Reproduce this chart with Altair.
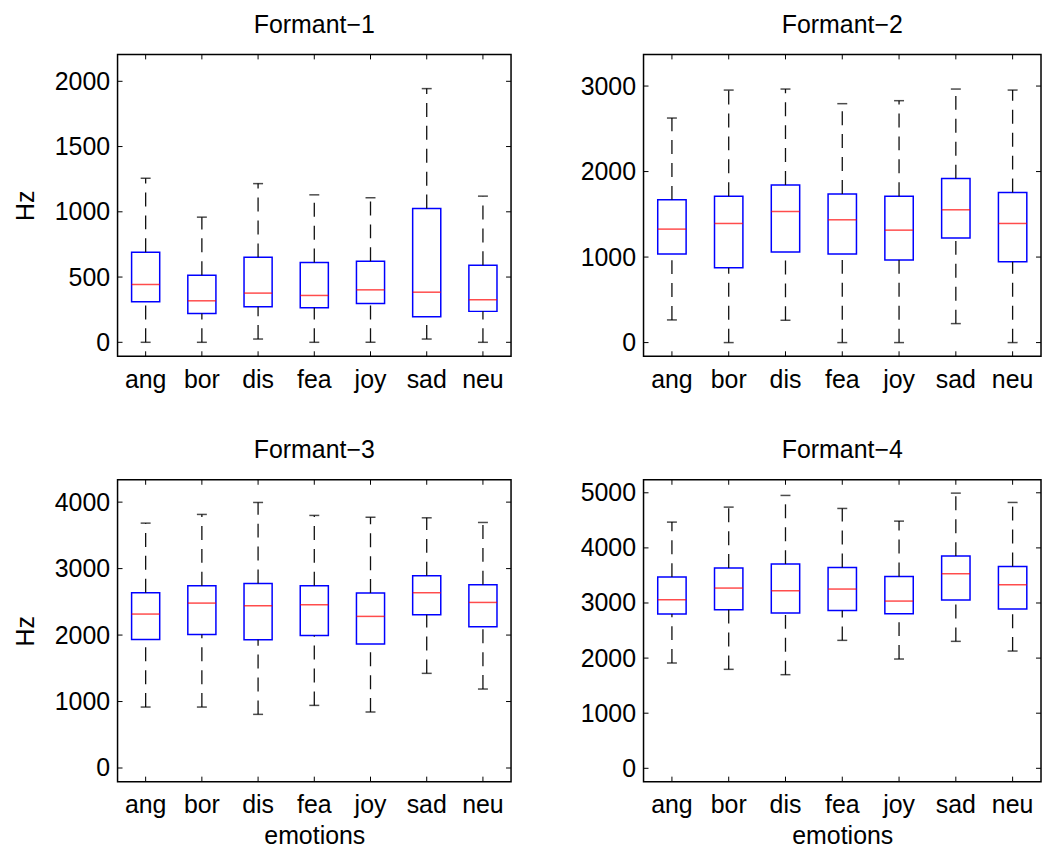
import altair as alt
import pandas as pd

emotions = ["ang", "bor", "dis", "fea", "joy", "sad", "neu"]

# Formant-1
f1_lower = [0, 0, 25, 0, 0, 25, 0]
f1_q1 = [310, 221, 272, 265, 298, 196, 237]
f1_median = [443, 318, 377, 359, 402, 384, 326]
f1_q3 = [690, 514, 651, 611, 621, 1025, 590]
f1_upper = [1257, 959, 1216, 1130, 1107, 1944, 1120]
f1_ticks = [0, 500, 1000, 1500, 2000]
f1_domain = [-107, 2206]

# Formant-2
f2_lower = [265, 0, 261, 0, 0, 222, 0]
f2_q1 = [1035, 875, 1058, 1035, 965, 1222, 946]
f2_median = [1327, 1393, 1533, 1436, 1315, 1553, 1393]
f2_q3 = [1669, 1712, 1844, 1739, 1712, 1918, 1755]
f2_upper = [2626, 2953, 2965, 2794, 2829, 2965, 2953]
f2_ticks = [0, 1000, 2000, 3000]
f2_domain = [-160, 3370]

# Formant-3
f3_lower = [917, 917, 807, 942, 842, 1424, 1188]
f3_q1 = [1935, 2010, 1930, 1995, 1865, 2306, 2125]
f3_median = [2316, 2481, 2441, 2456, 2281, 2637, 2491]
f3_q3 = [2637, 2742, 2777, 2742, 2632, 2892, 2757]
f3_upper = [3684, 3815, 3995, 3800, 3774, 3764, 3694]
f3_ticks = [0, 1000, 2000, 3000, 4000]
f3_domain = [-205, 4336]

# Formant-4
f4_lower = [1911, 1796, 1699, 2322, 1983, 2304, 2128]
f4_q1 = [2799, 2878, 2817, 2866, 2805, 3053, 2890]
f4_median = [3059, 3271, 3222, 3253, 3035, 3531, 3331]
f4_q3 = [3470, 3634, 3706, 3646, 3482, 3851, 3664]
f4_upper = [4468, 4740, 4952, 4716, 4486, 4994, 4825]
f4_ticks = [0, 1000, 2000, 3000, 4000, 5000]
f4_domain = [-242, 5236]

FONT = "Liberation Sans"
H = 303
TICK = 5


def panel(title, lower, q1, med, q3, upper, ticks, domain, W, ytitle, xtitle):
    df = pd.DataFrame({"emotion": emotions, "lower": lower, "q1": q1,
                       "median": med, "q3": q3, "upper": upper})
    tdf = pd.DataFrame({"v": ticks})

    xaxis = alt.Axis(labelAngle=0, ticks=False, domain=False, grid=False,
                     labelPadding=11, titlePadding=6, labelFontSize=25,
                     titleFontSize=25)
    yaxis = alt.Axis(values=ticks, format="d", ticks=False, domain=False, grid=False,
                     labelPadding=8, titlePadding=16, labelFontSize=25,
                     titleFontSize=25)
    xscale = alt.Scale(domain=emotions, paddingInner=0.5, paddingOuter=0.25)
    yscale = alt.Scale(domain=domain, nice=False, zero=False)

    def X():
        if xtitle:
            return alt.X("emotion:N", sort=emotions, scale=xscale, axis=xaxis, title=xtitle)
        return alt.X("emotion:N", sort=emotions, scale=xscale, axis=xaxis, title=None)

    def Y(field):
        if ytitle:
            return alt.Y(field, type="quantitative", scale=yscale, axis=yaxis, title=ytitle)
        return alt.Y(field, type="quantitative", scale=yscale, axis=yaxis, title=None)

    base = alt.Chart(df)
    box_px = W / 7 * 0.5

    whisk_hi = base.mark_rule(color="#111111", strokeWidth=1.3, strokeDash=[14, 9]).encode(
        x=X(), y=Y("q3"), y2="upper")
    whisk_lo = base.mark_rule(color="#111111", strokeWidth=1.3, strokeDash=[14, 9]).encode(
        x=X(), y=Y("lower"), y2="q1")
    cap_hi = base.mark_tick(color="black", thickness=1.5, size=10).encode(x=X(), y=Y("upper"))
    cap_lo = base.mark_tick(color="black", thickness=1.5, size=10).encode(x=X(), y=Y("lower"))
    box = base.mark_bar(filled=False, stroke="#0000ff", strokeWidth=1.5).encode(
        x=X(), y=Y("q1"), y2="q3")
    medl = base.mark_tick(color="#ff0000", thickness=1.5, size=box_px).encode(x=X(), y=Y("median"))

    yt_l = alt.Chart(tdf).mark_rule(color="black", strokeWidth=1).encode(
        y=Y("v"), x=alt.value(0), x2=alt.value(TICK))
    yt_r = alt.Chart(tdf).mark_rule(color="black", strokeWidth=1).encode(
        y=Y("v"), x=alt.value(W - TICK), x2=alt.value(W))
    xt_b = base.mark_rule(color="black", strokeWidth=1).encode(
        x=X(), y=alt.value(H), y2=alt.value(H - TICK))
    xt_t = base.mark_rule(color="black", strokeWidth=1).encode(
        x=X(), y=alt.value(0), y2=alt.value(TICK))

    return alt.layer(box, whisk_hi, whisk_lo, cap_hi, cap_lo, medl,
                     yt_l, yt_r, xt_b, xt_t).properties(
        width=W, height=H,
        title=alt.TitleParams(title, fontSize=25, font=FONT, fontWeight="normal",
                              color="black", offset=16, anchor="middle"))


p1 = panel("Formant\u22121", f1_lower, f1_q1, f1_median, f1_q3, f1_upper, f1_ticks, f1_domain, 395, "Hz", None)
p2 = panel("Formant\u22122", f2_lower, f2_q1, f2_median, f2_q3, f2_upper, f2_ticks, f2_domain, 399, None, None)
p3 = panel("Formant\u22123", f3_lower, f3_q1, f3_median, f3_q3, f3_upper, f3_ticks, f3_domain, 395, "Hz", "emotions")
p4 = panel("Formant\u22124", f4_lower, f4_q1, f4_median, f4_q3, f4_upper, f4_ticks, f4_domain, 399, None, "emotions")

chart = alt.hconcat(
    alt.vconcat(p1, p3, spacing=44),
    alt.vconcat(p2, p4, spacing=44),
    spacing=66,
).properties(
    padding={"left": 12, "top": 10, "right": 0, "bottom": 0},
    background="white",
).configure_view(
    stroke="black", strokeWidth=1.5
).configure_axis(
    labelFont=FONT, titleFont=FONT, labelColor="black", titleColor="black",
    titleFontWeight="normal"
).configure_title(font=FONT)

chart.save("out.html", embed_options={"renderer": "svg", "actions": False})
